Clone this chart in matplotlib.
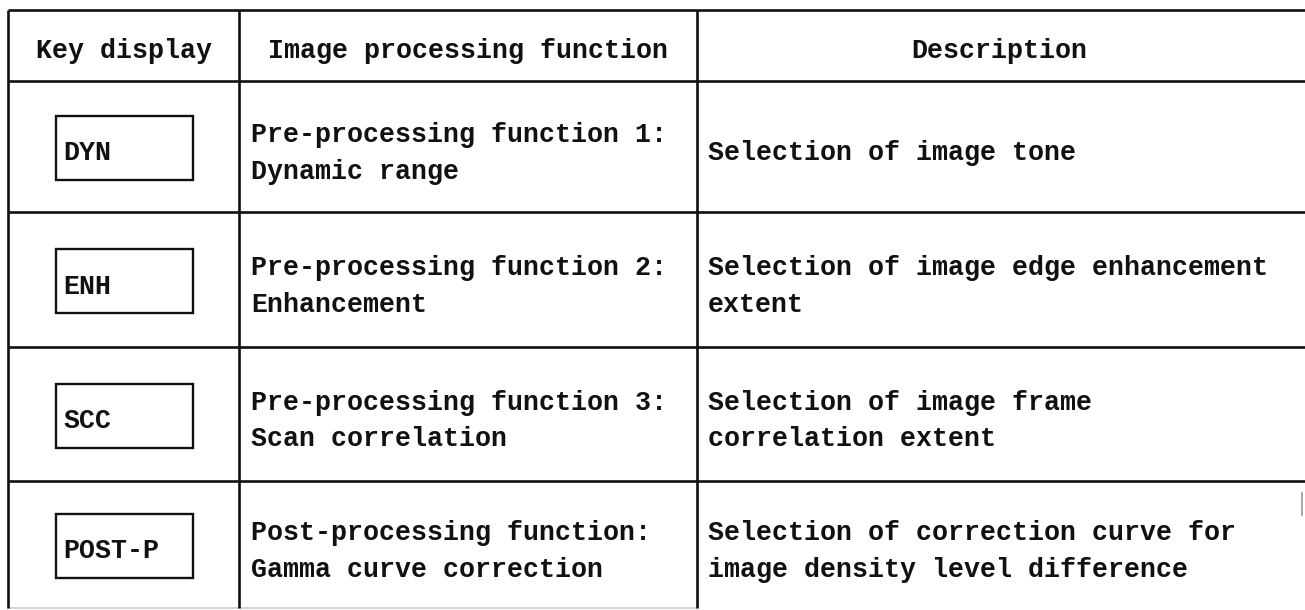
import matplotlib.pyplot as plt
from matplotlib.patches import Rectangle

# Table contents
headers = ["Key display", "Image processing function", "Description"]
keys = ["DYN", "ENH", "SCC", "POST-P"]
functions = [
    ["Pre-processing function 1:", "Dynamic range"],
    ["Pre-processing function 2:", "Enhancement"],
    ["Pre-processing function 3:", "Scan correlation"],
    ["Post-processing function:", "Gamma curve correction"],
]
descriptions = [
    ["Selection of image tone"],
    ["Selection of image edge enhancement", "extent"],
    ["Selection of image frame", "correlation extent"],
    ["Selection of correction curve for", "image density level difference"],
]

# Layout (pixel units)
col_x = [8, 239, 697, 1302]
row_y = [10, 81, 212, 347, 481, 608]
line_gap = 37
font = dict(family="Liberation Mono", weight="bold", size=19.2, color="#111111")

fig = plt.figure(figsize=(13.05, 6.10), dpi=100)
ax = fig.add_axes([0, 0, 1, 1])
ax.set_xlim(0, 1305)
ax.set_ylim(610, 0)
ax.axis("off")

# Grid lines
for y in row_y[:-1]:
    ax.plot([col_x[0], 1305], [y, y], color="#111111", lw=1.9, solid_capstyle="butt")
ax.plot([col_x[0], col_x[2]], [row_y[-1], row_y[-1]], color="#cccccc", lw=1.2)
for x in col_x[:3]:
    ax.plot([x, x], [row_y[0], row_y[-1]], color="#111111", lw=1.9, solid_capstyle="butt")
# scrap of the right border at the cut edge
ax.plot([1302, 1302], [493, 515], color="#999999", lw=1.2)

# Header
header_c = (row_y[0] + row_y[1]) / 2
for i, h in enumerate(headers):
    cx = (col_x[i] + col_x[i + 1]) / 2
    ax.text(cx, header_c + 12, h, ha="center", va="baseline", **font)

# Body rows
for r in range(len(keys)):
    rc = (row_y[r + 1] + row_y[r + 2]) / 2
    ax.add_patch(Rectangle((56, rc - 30.5), 137, 64, fill=False,
                           edgecolor="#111111", lw=1.7))
    ax.text(63, rc + 14, keys[r], ha="left", va="baseline", **font)

    for lines, x0 in ((functions[r], col_x[1] + 12), (descriptions[r], col_x[2] + 11)):
        if len(lines) == 1:
            ax.text(x0, rc + 14, lines[0], ha="left", va="baseline", **font)
        else:
            for k, t in enumerate(lines):
                ax.text(x0, rc - 4.5 + k * line_gap, t, ha="left", va="baseline", **font)

plt.savefig("out.png", dpi=100, facecolor="white")
